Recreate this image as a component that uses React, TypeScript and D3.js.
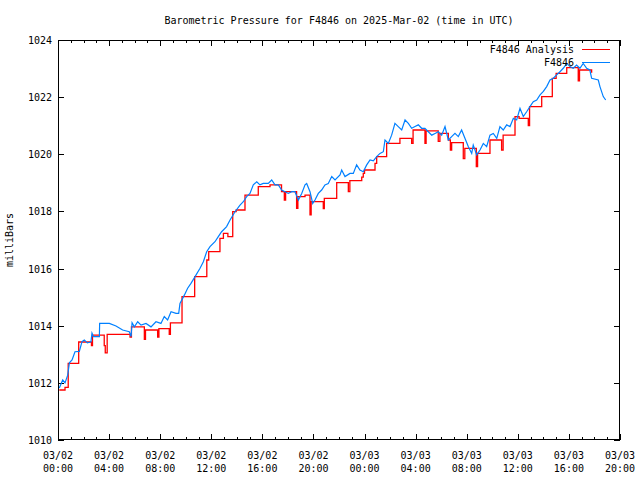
import React from "react";
import * as d3 from "d3";

// Hours since 2025-03-02 00:00 UTC, values in milliBars
const analysisHours = [0.1, 0.55, 0.8, 1.62, 2.62, 2.7, 3.62, 3.7, 3.85, 5.64, 5.75, 6.76, 6.85, 7.8, 7.9, 8.71, 8.8, 9.71, 10.7, 11.65, 11.8, 12.68, 12.95, 13.3, 13.68, 13.95, 14.64, 15.68, 16.6, 17.5, 17.72, 17.82, 18.68, 18.78, 19.34, 19.73, 19.82, 20.77, 20.85, 21.82, 22.73, 22.85, 23.78, 23.9, 24.0, 24.82, 24.95, 25.73, 26.77, 27.69, 27.8, 28.73, 28.82, 29.77, 29.9, 30.56, 30.72, 30.82, 31.73, 31.85, 32.75, 32.85, 33.82, 34.73, 34.85, 35.78, 36.1, 36.82, 36.92, 37.87, 38.7, 39.0, 39.83, 40.73, 40.83, 41.78];
const analysisValues = [1011.75, 1011.84, 1012.68, 1013.43, 1013.3, 1013.67, 1013.3, 1013.05, 1013.7, 1013.6, 1013.96, 1013.52, 1013.85, 1013.6, 1013.9, 1013.7, 1014.1, 1015.02, 1015.72, 1016.3, 1016.59, 1017.06, 1017.23, 1017.12, 1017.99, 1018.05, 1018.57, 1018.87, 1018.93, 1018.69, 1018.4, 1018.69, 1018.11, 1018.52, 1018.57, 1017.88, 1018.34, 1018.1, 1018.46, 1019.01, 1018.69, 1019.08, 1019.2, 1019.33, 1019.45, 1019.68, 1019.92, 1020.38, 1020.56, 1020.38, 1020.85, 1020.38, 1020.82, 1020.45, 1020.73, 1020.5, 1020.15, 1020.41, 1019.85, 1020.21, 1019.57, 1020.03, 1020.5, 1020.15, 1020.67, 1021.32, 1021.26, 1021.0, 1021.67, 1022.02, 1022.66, 1022.83, 1023.03, 1022.57, 1022.95, 1022.85];

const obsHours = [0.1, 0.37, 0.55, 0.76, 0.89, 1.1, 1.33, 1.67, 1.88, 2.06, 2.3, 2.58, 2.66, 2.77, 3.24, 3.26, 4.02, 4.54, 5.06, 5.58, 5.72, 5.8, 5.98, 6.24, 6.5, 6.89, 7.28, 7.67, 8.06, 8.32, 8.58, 8.85, 9.24, 9.45, 9.55, 9.89, 10.15, 10.41, 10.73, 11.12, 11.38, 11.64, 11.9, 12.29, 12.55, 12.81, 13.2, 13.47, 13.86, 14.25, 14.51, 14.77, 15.03, 15.29, 15.56, 15.81, 16.07, 16.46, 16.73, 16.99, 17.25, 17.51, 17.77, 18.03, 18.3, 18.55, 18.82, 19.08, 19.34, 19.47, 19.73, 19.94, 20.12, 20.38, 20.64, 20.9, 21.16, 21.43, 21.69, 22.08, 22.21, 22.47, 22.86, 23.12, 23.38, 23.64, 23.9, 24.17, 24.43, 24.69, 24.95, 25.21, 25.47, 25.6, 25.86, 26.12, 26.38, 26.64, 26.91, 27.17, 27.43, 27.69, 27.95, 28.21, 28.47, 28.73, 28.99, 29.26, 29.52, 29.77, 30.04, 30.3, 30.56, 30.82, 31.08, 31.34, 31.6, 31.86, 32.12, 32.39, 32.51, 32.78, 33.04, 33.3, 33.56, 33.82, 34.08, 34.35, 34.6, 34.86, 35.13, 35.39, 35.65, 35.91, 36.17, 36.43, 36.69, 36.95, 37.21, 37.48, 37.74, 38.0, 38.26, 38.52, 38.78, 39.04, 39.3, 39.56, 39.83, 40.08, 40.34, 40.6, 40.86, 41.12, 41.39, 41.64, 41.78, 42.3, 42.43, 42.69, 42.88];
const obsValues = [1011.82, 1012.1, 1012.0, 1012.27, 1012.7, 1012.8, 1013.09, 1013.1, 1013.44, 1013.5, 1013.4, 1013.44, 1013.74, 1013.62, 1013.62, 1014.08, 1014.08, 1013.99, 1013.85, 1013.79, 1013.62, 1014.1, 1013.96, 1014.14, 1014.02, 1014.08, 1013.96, 1014.14, 1014.08, 1014.32, 1014.2, 1014.49, 1014.43, 1014.43, 1014.78, 1015.07, 1015.31, 1015.48, 1015.72, 1016.01, 1016.24, 1016.59, 1016.77, 1016.94, 1017.12, 1017.29, 1017.47, 1017.7, 1017.99, 1018.22, 1018.34, 1018.52, 1018.63, 1018.93, 1019.04, 1018.93, 1018.98, 1018.98, 1019.1, 1018.93, 1018.93, 1018.75, 1018.69, 1018.63, 1018.69, 1018.69, 1018.4, 1018.63, 1018.93, 1018.98, 1018.69, 1018.28, 1018.4, 1018.63, 1018.75, 1018.93, 1018.98, 1019.22, 1019.1, 1019.28, 1019.45, 1019.22, 1019.33, 1019.33, 1019.63, 1019.45, 1019.39, 1019.63, 1019.8, 1019.77, 1019.92, 1020.03, 1020.09, 1020.5, 1020.38, 1020.67, 1021.08, 1020.97, 1020.85, 1021.2, 1021.08, 1020.91, 1020.97, 1021.03, 1020.91, 1020.91, 1020.79, 1020.67, 1020.73, 1020.79, 1020.67, 1020.97, 1020.5, 1020.62, 1020.73, 1020.62, 1020.85, 1020.56, 1020.27, 1020.03, 1020.32, 1019.98, 1020.15, 1020.38, 1020.27, 1020.67, 1020.73, 1020.56, 1020.97, 1020.85, 1021.03, 1020.97, 1021.26, 1021.2, 1021.61, 1021.32, 1021.49, 1021.67, 1021.84, 1021.9, 1022.08, 1022.2, 1022.37, 1022.6, 1022.66, 1022.78, 1022.89, 1023.01, 1023.18, 1023.07, 1023.01, 1023.12, 1023.01, 1023.18, 1023.01, 1022.95, 1022.66, 1022.6, 1022.37, 1022.02, 1021.9];

const yTicks = [1010, 1012, 1014, 1016, 1018, 1020, 1022, 1024];
const xTickDates = ["03/02", "03/02", "03/02", "03/02", "03/02", "03/02", "03/03", "03/03", "03/03", "03/03", "03/03", "03/03"];
const xTickTimes = ["00:00", "04:00", "08:00", "12:00", "16:00", "20:00", "00:00", "04:00", "08:00", "12:00", "16:00", "20:00"];

const title = "Barometric Pressure for F4846 on 2025-Mar-02 (time in UTC)";
const yLabel = "milliBars";
const seriesNames = ["F4846 Analysis", "F4846"];
const seriesColors = ["#ff0000", "#0080ff"];

const W = 640, H = 480;
const L = 58, R = 620, T = 40, B = 440;
const FONT = "'DejaVu Sans Mono', 'Liberation Mono', monospace";

export default function App() {
  const x = d3.scaleLinear().domain([0, 44]).range([L, R]);
  const y = d3.scaleLinear().domain([1010, 1024]).range([B, T]);

  const aData = analysisHours.map((h, i) => [h, analysisValues[i]] as [number, number]);
  const oData = obsHours.map((h, i) => [h, obsValues[i]] as [number, number]);

  const stepLine = d3.line<[number, number]>().x(d => x(d[0])).y(d => y(d[1])).curve(d3.curveStepAfter);
  const lin = d3.line<[number, number]>().x(d => x(d[0])).y(d => y(d[1]));

  const hourTicks = d3.range(0, 45, 1);
  const majorHours = xTickTimes.map((_, i) => i * 4);

  return (
    <svg width={W} height={H} style={{ position: "absolute", left: 0, top: 0, background: "#fff" }} fontFamily={FONT} fontSize={10}>
      <rect x={0} y={0} width={W} height={H} fill="#fff" />
      <text x={(L + R) / 2} y={24} textAnchor="middle">{title}</text>
      <text transform={`translate(13,${(T + B) / 2}) rotate(-90)`} textAnchor="middle">{yLabel}</text>

      <g stroke="#000" strokeWidth={1} shapeRendering="crispEdges">
        {hourTicks.map(h => {
          const major = h % 4 === 0;
          const len = major ? 6 : 3;
          const px = Math.round(x(h)) + 0.5;
          return (
            <g key={h}>
              <line x1={px} x2={px} y1={B} y2={B - len} />
              <line x1={px} x2={px} y1={T} y2={T + len} />
            </g>
          );
        })}
        {yTicks.map(v => {
          const py = Math.round(y(v)) + 0.5;
          return (
            <g key={v}>
              <line x1={L} x2={L + 6} y1={py} y2={py} />
              <line x1={R} x2={R - 6} y1={py} y2={py} />
            </g>
          );
        })}
      </g>

      {yTicks.map(v => (
        <text key={v} x={L - 6} y={y(v) + 4} textAnchor="end">{v}</text>
      ))}
      {majorHours.map((h, i) => (
        <g key={h}>
          <text x={x(h)} y={459} textAnchor="middle">{xTickDates[i]}</text>
          <text x={x(h)} y={472} textAnchor="middle">{xTickTimes[i]}</text>
        </g>
      ))}

      <path d={stepLine(aData) || ""} fill="none" stroke={seriesColors[0]} strokeWidth={1.3} />
      <path d={lin(oData) || ""} fill="none" stroke={seriesColors[1]} strokeWidth={1.2} />

      <text x={574} y={53} textAnchor="end">{seriesNames[0]}</text>
      <line x1={582} x2={610} y1={49.5} y2={49.5} stroke={seriesColors[0]} strokeWidth={1} />
      <text x={574} y={66} textAnchor="end">{seriesNames[1]}</text>
      <line x1={582} x2={610} y1={62.5} y2={62.5} stroke={seriesColors[1]} strokeWidth={1} />

      <rect x={L + 0.5} y={T + 0.5} width={R - L - 1} height={B - T - 1} fill="none" stroke="#000" strokeWidth={1} shapeRendering="crispEdges" />
    </svg>
  );
}
